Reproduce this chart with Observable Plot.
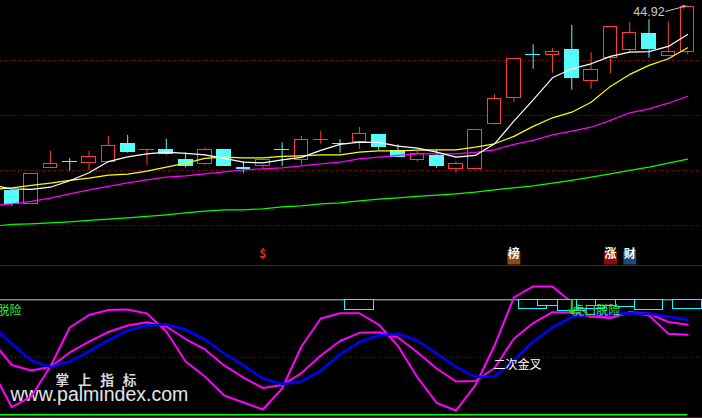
<!DOCTYPE html>
<html><head><meta charset="utf-8">
<script src="https://cdn.jsdelivr.net/npm/d3@7"></script>
<script src="https://cdn.jsdelivr.net/npm/@observablehq/plot@0.6"></script>
<style>
html,body{margin:0;padding:0;background:#000;}
#wrap{width:702px;height:418px;background:#000;overflow:hidden;}
.sep{height:1px;width:702px;background:#a00000;}
#wrap svg{display:block;background:#000;}
</style></head>
<body><div id="wrap"></div>
<script>
// ---------- price pane data (candle index 0..35) ----------
const opens  = [35.64,35.02,36.82,37.13,37.05,37.10,38.02,37.71,37.72,37.22,37.00,37.72,36.79,36.90,37.72,37.20,38.21,38.02,38.12,38.44,37.65,37.20,37.40,36.77,36.77,39.02,40.32,42.47,42.47,42.72,41.17,42.32,42.70,43.49,42.42,42.62];
const highs  = [35.71,36.49,37.64,37.29,37.64,38.39,38.44,37.72,38.24,37.57,37.79,37.72,37.12,37.22,38.07,38.39,38.64,38.22,38.84,38.49,37.97,37.64,37.69,37.12,38.69,40.47,42.27,42.97,42.77,43.94,42.57,43.87,44.07,44.22,44.12,44.92];
const lows   = [34.90,35.02,36.82,36.65,36.69,37.05,37.55,36.95,37.45,36.82,36.94,36.90,36.55,36.77,36.90,36.94,37.99,37.55,37.74,37.70,37.35,37.10,36.80,36.55,36.77,38.95,40.07,41.75,41.55,40.70,40.75,41.52,42.55,42.30,42.42,42.47];
const closes = [35.00,36.49,37.02,37.12,37.37,37.92,37.60,37.72,37.49,36.90,37.72,36.90,36.74,37.22,37.71,38.22,38.22,38.01,38.52,37.85,37.35,37.52,36.90,36.99,38.69,40.27,42.27,42.46,42.62,41.30,41.72,43.87,43.57,42.75,42.62,44.87];
// moving averages, index -1..35
const maIdx = d3.range(-1, 36);
const maWhite  = [35.95,35.77,35.74,35.85,36.17,36.57,37.13,37.37,37.52,37.60,37.54,37.47,37.29,37.10,37.07,37.22,37.34,37.69,37.99,38.10,38.09,37.90,37.80,37.60,37.35,37.44,38.02,39.15,40.22,41.32,41.77,42.02,42.39,42.60,42.63,42.89,43.49];
const maYellow = [35.74,35.82,35.94,36.05,36.19,36.30,36.45,36.50,36.65,36.85,37.05,37.29,37.35,37.32,37.32,37.39,37.42,37.47,37.47,37.60,37.67,37.67,37.70,37.72,37.72,37.85,38.02,38.39,38.89,39.32,39.60,40.10,40.89,41.49,41.94,42.27,42.82];
const maMagenta= [34.94,35.02,35.14,35.30,35.52,35.72,35.89,36.07,36.22,36.35,36.42,36.52,36.62,36.72,36.77,36.82,36.92,37.02,37.10,37.27,37.35,37.44,37.52,37.52,37.52,37.59,37.72,37.99,38.19,38.47,38.65,38.85,39.19,39.57,39.77,40.05,40.40];
const maGreen  = [33.90,33.99,34.02,34.07,34.12,34.19,34.25,34.32,34.39,34.47,34.57,34.65,34.72,34.72,34.77,34.87,34.92,35.02,35.07,35.17,35.25,35.32,35.39,35.45,35.52,35.60,35.72,35.82,35.92,36.05,36.19,36.35,36.52,36.69,36.85,37.05,37.25];
const gridPrices = [42.185, 39.435, 36.685, 33.935];
const priceDomain = [31.935, 45.185];
const xDomain = [-0.5855, 35.769];
// markers under price pane
const badgeIdx  = [13, 26, 31, 32];
const badgeText = ["$", "榜", "涨", "财"];

// ---------- oscillator pane data ----------
const oscBlue = [76.8,61.8,47.2,41.6,46.3,55.0,65.0,73.3,77.7,78.5,74.2,65.5,53.3,42.9,31.6,26.8,29.0,38.5,52.4,63.3,69.0,70.4,64.6,53.3,41.6,32.9,33.3,47.2,63.7,75.9,85.0,87.7,87.8,88.3,87.8,85.5,82.6];
const oscMid  = [63.7,43.3,38.5,41.6,54.2,63.7,72.0,77.7,80.5,76.8,65.9,56.8,42.9,32.4,23.3,25.9,36.3,51.6,64.2,71.3,71.8,67.2,54.4,40.3,29.0,29.4,40.7,66.1,79.8,89.2,89.0,85.5,84.2,89.2,88.1,80.7,78.3];
const oscFast = [38.5,6.6,15.9,42.0,75.9,86.8,91.1,91.6,88.1,72.4,46.3,33.3,16.8,10.7,4.6,22.9,59.4,83.7,88.3,88.3,78.5,59.8,32.7,10.3,3.7,25.5,60.3,102.0,111.6,111.6,97.7,85.5,84.6,89.2,86.3,70.4,69.6];
const oscDomain = [-2.35, 128.96];
const oscTop = 100, oscMidLevel = 50, oscZero = 0;
const boxIdx = [18, 27, 28, 29, 30, 31, 32, 33, 35];
const boxLow = [91.0, 91.6, 95.0, 90.1, 92.0, 94.4, 93.7, 91.3, 92.2];
const tigerIdx = [-2, 29];
const tigerArrowFrom = 99.4, tigerArrowTo = 88.0, tigerTextLevel = 89.8;
const tigerText = "虎口脱险";
const crossIdx = [25];
const crossLevel = 43.3;
const crossText = "二次金叉";

// ---------- build ----------
const RED = "#ff3c3c", CYAN = "#54fcfc";
const candles = d3.range(opens.length).map(i => ({i, o: opens[i], h: highs[i], l: lows[i], c: closes[i], up: closes[i] >= opens[i]}));
const series = (vals) => maIdx.map((i, k) => ({i, v: vals[k]}));
const cjk = "Noto Sans CJK SC, sans-serif";
const badgeStyle = {"$": {bg: null, fg: "#ff2020"}, "榜": {bg: "#8b4a14", fg: "#fff"}, "涨": {bg: "#8c0a0a", fg: "#fff"}, "财": {bg: "#1d4b7d", fg: "#fff"}};
const badges = badgeIdx.map((i, k) => ({i, t: badgeText[k], bg: badgeStyle[badgeText[k]].bg, fg: badgeStyle[badgeText[k]].fg}));
const last = candles[candles.length - 1];

const pricePane = Plot.plot({
  width: 702, height: 265, margin: 0,
  x: {domain: xDomain, axis: null},
  y: {domain: priceDomain, axis: null},
  color: {type: "identity"},
  style: {background: "#000"},
  marks: [
    Plot.ruleY(gridPrices, {stroke: "#b00000", strokeDasharray: "1,2"}),
    Plot.ruleX(candles.filter(d => d.up), {x: "i", y1: "l", y2: "h", stroke: RED}),
    Plot.ruleX(candles.filter(d => !d.up), {x: "i", y1: "l", y2: "h", stroke: CYAN}),
    Plot.rect(candles.filter(d => d.up), {x1: d => d.i - 0.35, x2: d => d.i + 0.35, y1: "o", y2: "c", fill: "#000", stroke: RED, shapeRendering: "crispEdges"}),
    Plot.rect(candles.filter(d => !d.up), {x1: d => d.i - 0.36, x2: d => d.i + 0.36, y1: "o", y2: "c", fill: CYAN, stroke: CYAN, shapeRendering: "crispEdges"}),
    Plot.line(series(maGreen), {x: "i", y: "v", stroke: "#00ff00", strokeWidth: 1.2, clip: true}),
    Plot.line(series(maMagenta), {x: "i", y: "v", stroke: "#ff00ff", strokeWidth: 1.2, clip: true}),
    Plot.line(series(maYellow), {x: "i", y: "v", stroke: "#ffff00", strokeWidth: 1.2, clip: true}),
    Plot.line(series(maWhite), {x: "i", y: "v", stroke: "#ffffff", strokeWidth: 1.2, clip: true}),
    Plot.arrow([last], {x1: d => d.i - 1.14, y1: d => d.h - 0.28, x2: d => d.i - 0.12, y2: d => d.h - 0.02, stroke: "#c8c8c8", strokeWidth: 1, headLength: 4}),
    Plot.text([last], {x: "i", y: "h", text: d => d.h.toFixed(2), textAnchor: "end", dx: -23, dy: 6.4, fill: "#c8c8c8", fontSize: 12.5, fontFamily: "Liberation Sans, sans-serif"}),
    Plot.dot(badges.filter(d => d.bg), {x: "i", frameAnchor: "bottom", dy: -7.5, symbol: "square", r: 7.3, fill: "bg"}),
    Plot.text(badges, {x: "i", frameAnchor: "bottom", dy: -7.5, text: "t", fill: "fg", fontSize: 12, fontWeight: "bold", fontFamily: cjk})
  ]
});

const boxes = boxIdx.map((i, k) => ({i, v: boxLow[k]}));
const oscPane = Plot.plot({
  width: 702, height: 151, margin: 0,
  x: {domain: xDomain, axis: null},
  y: {domain: oscDomain, axis: null},
  style: {background: "#000"},
  marks: [
    Plot.ruleY([oscTop], {stroke: "#c8c8c8"}),
    Plot.ruleY([oscMidLevel], {stroke: "#b00000", strokeDasharray: "1,2"}),
    Plot.ruleY([oscZero], {x1: maIdx[0], x2: candles.length - 1, stroke: "#00ff00", strokeWidth: 1.6}),
    Plot.text(["www.palmindex.com"], {frameAnchor: "bottom-left", dx: 10, dy: -16.5, fill: "#e6e6e6", fontSize: 19.5, fontFamily: "Liberation Sans, sans-serif", textAnchor: "start"}),
    Plot.text(["掌上指标"], {frameAnchor: "bottom-left", dx: 55, dy: -33, fill: "#d8d8d8", fontSize: 13.5, fontWeight: "bold", fontFamily: cjk, textAnchor: "start"}),
    Plot.line(series(oscMid), {x: "i", y: "v", stroke: "#ff00ff", strokeWidth: 2, clip: true}),
    Plot.line(series(oscFast), {x: "i", y: "v", stroke: "#ff00ff", strokeWidth: 2, clip: true}),
    Plot.line(series(oscBlue), {x: "i", y: "v", stroke: "#0000ff", strokeWidth: 2.6, clip: true}),
    Plot.rect(boxes, {x1: d => d.i - 0.735, x2: d => d.i + 0.735, y1: oscTop, y2: "v", fill: "#000", stroke: "#00ffff", shapeRendering: "crispEdges"}),
    Plot.arrow(tigerIdx, {x1: d => d, x2: d => d, y1: tigerArrowFrom, y2: tigerArrowTo, stroke: "#22dd22", strokeWidth: 2, headLength: 6, headAngle: 70}),
    Plot.text(tigerIdx, {x: d => d, y: tigerTextLevel, text: () => tigerText, textAnchor: "start", dx: 0.4, fill: "#33ee33", fontSize: 12, fontFamily: cjk}),
    Plot.text(crossIdx, {x: d => d, y: crossLevel, text: () => crossText, textAnchor: "start", dx: -1, fill: "#ffffff", fontSize: 12, fontFamily: cjk})
  ]
});
d3.select(oscPane).selectAll("text").filter(function() { return this.textContent === "掌上指标"; }).style("letter-spacing", "9px");

const wrap = document.getElementById("wrap");
wrap.appendChild(pricePane);
const s1 = document.createElement("div"); s1.className = "sep"; wrap.appendChild(s1);
wrap.appendChild(oscPane);
const s2 = document.createElement("div"); s2.className = "sep"; wrap.appendChild(s2);
</script>
</body></html>
